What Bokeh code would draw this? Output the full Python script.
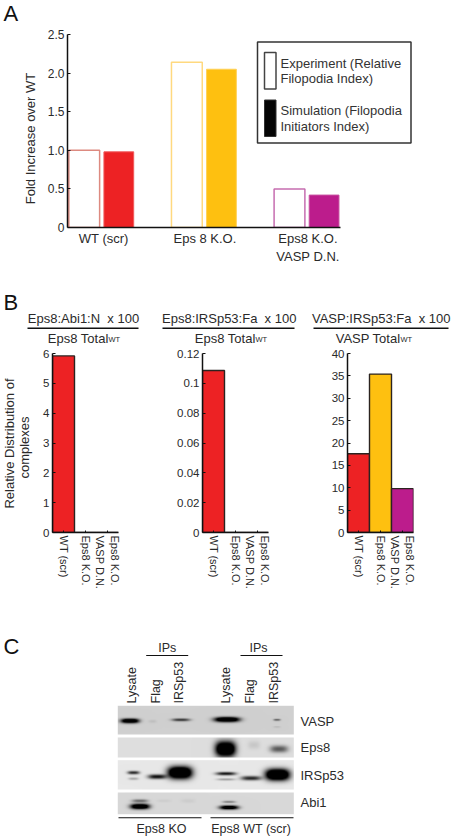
import math
import numpy as np
from bokeh.embed import file_html
from bokeh.resources import INLINE
from bokeh.plotting import figure
from bokeh.layouts import column, row
from bokeh.models import Label, BoxAnnotation, FixedTicker, Range1d

FONT = "Liberation Sans"
INK = "#2a2a2a"

# Panel A
groups = ["WT (scr)", "Eps 8 K.O.", "Eps8 K.O.\nVASP D.N."]
experiment = [1.0, 2.14, 0.5]
simulation = [0.98, 2.05, 0.42]
bar_colors = ["#ED2224", "#FEC010", "#BC1C8C"]
exp_edges = ["#DD8A80", "#FFD97F", "#C66DB0"]
sim_edges = ["#F0595A", "#FFD055", "#C850A0"]
a_ticks = [0, 0.5, 1.0, 1.5, 2.0, 2.5]
a_tick_labels = {0: "0", 0.5: "0.5", 1: "1.0", 1.5: "1.5", 2: "2.0", 2.5: "2.5"}

# Panel B
b_labels = ["WT (scr)", "Eps8 K.O.", "Eps8 K.O.\nVASP D.N."]
abi1_values = [5.92, 0, 0]
irsp53_values = [0.1086, 0, 0]
vasp_values = [17.6, 35.4, 9.8]
abi1_ticks = [0, 1, 2, 3, 4, 5, 6]
irsp53_ticks = [0, 0.02, 0.04, 0.06, 0.08, 0.1, 0.12]
irsp53_tick_labels = {0: "0", 0.02: "0.02", 0.04: "0.04", 0.06: "0.06", 0.08: "0.08", 0.1: "0.1", 0.12: "0.12"}
vasp_ticks = [0, 5, 10, 15, 20, 25, 30, 35, 40]

# Panel C: blot strips and their bands (centre x, centre y, half width, half height, strength)
lane_names = ["Lysate", "Flag", "IRSp53", "Lysate", "Flag", "IRSp53"]
strip_names = ["VASP", "Eps8", "IRSp53", "Abi1"]
strip_bg = [208, 222, 232, 216]
vasp_bands = [(129, 720, 9, 2.2, 1.5), (151.5, 720.5, 4, 1.5, .08), (180, 719, 9, 1.4, .75),
              (226, 718.7, 12.5, 2.4, 1.6), (276, 719, 3.5, 1.0, .55), (276, 726, 3.5, .7, .12)]
eps8_bands = [(224.5, 748, 10, 7.5, 1.7), (253, 744, 6, 4, .1), (278, 748, 9, 3.5, .6)]
irsp53_bands = [(132.5, 772, 6, 1.6, .85), (132.5, 778, 5, 1.2, .3), (156, 776, 9, 2.2, .95),
                (179, 772, 12, 6, 1.8), (225, 773, 10, 1.6, .95), (225, 778.7, 9, 1.0, .35),
                (250, 777.5, 10, 2.1, .85), (276.5, 774, 12, 5.6, 1.8)]
abi1_bands = [(139, 805.5, 9.5, 2.6, 1.5), (139, 800, 8, 1.5, .5), (228, 806.5, 9.5, 2, 1.3),
              (228, 801, 6.5, 1.1, .4), (163, 800, 7, 1.4, .05), (187, 800, 7, 2, .05)]
strip_boxes = [(117.3, 293.3, 705.3, 734), (117.3, 293.3, 737, 757), (117.3, 293.3, 759.7, 789), (117.3, 293.3, 792, 813.7)]
all_bands = [vasp_bands, eps8_bands, irsp53_bands, abi1_bands]

# Page layer: every free text, rule and the blot strips, in page pixels
page = figure(width=452, height=838, output_backend="svg", toolbar_location=None,
              x_range=Range1d(0, 452), y_range=Range1d(838, 0),
              min_border_left=0, min_border_right=0, min_border_top=0, min_border_bottom=0,
              styles={"position": "absolute", "left": "0px", "top": "0px"})
page.axis.visible = False
page.grid.visible = False
page.outline_line_color = None
page.background_fill_color = None
page.border_fill_color = None


def put(x, y, text, size=12.5, align="left", base="middle", angle=0, color=INK):
    page.add_layout(Label(x=x, y=y, x_units="canvas", y_units="canvas", text=text,
                          text_font=FONT, text_font_size=f"{size}px", text_color=color,
                          text_align=align, text_baseline=base, angle=angle))


def rule(x0, x1, y0, y1, color=INK, fill=None, lw=0):
    page.add_layout(BoxAnnotation(left=x0, right=x1, top=y0, bottom=y1,
                                  left_units="canvas", right_units="canvas", top_units="canvas", bottom_units="canvas",
                                  fill_color=fill or color, fill_alpha=1, line_color=color, line_width=lw,
                                  line_alpha=1 if lw else 0, level="underlay", editable=False))


def style_axes(p, size="11.5px"):
    for ax in (p.xaxis[0], p.yaxis[0]):
        ax.axis_line_color = "#111111"
        ax.axis_line_width = 1.5
        ax.major_tick_line_color = "#111111"
        ax.major_tick_line_width = 1
        ax.major_tick_out = 0
        ax.major_tick_in = 3
        ax.minor_tick_line_color = None
        ax.major_label_text_font = FONT
        ax.major_label_text_font_size = size
        ax.major_label_text_color = INK
        ax.major_label_standoff = 3
    p.xgrid.visible = False
    p.ygrid.visible = False
    p.outline_line_color = None


# ---------- Panel A
pa = figure(width=452, height=290, output_backend="svg", toolbar_location=None,
            x_range=Range1d(-0.163, 2.497), y_range=Range1d(0, 2.5),
            min_border_left=67, min_border_right=112, min_border_top=34, min_border_bottom=63)
style_axes(pa, "12px")
pos = np.arange(3)
pa.vbar(x=pos, top=experiment, width=0.30, bottom=0, fill_color="white", line_color=exp_edges, line_width=1.5)
pa.vbar(x=pos + 0.337, top=simulation, width=0.29, bottom=0, fill_color=bar_colors, line_color=sim_edges, line_width=1)
pa.yaxis[0].ticker = FixedTicker(ticks=a_ticks)
pa.yaxis[0].major_label_overrides = a_tick_labels
pa.xaxis[0].ticker = FixedTicker(ticks=[0.19, 1.176, 2.18])
pa.xaxis[0].major_label_overrides = {0.19: groups[0], 1.176: groups[1], 2.18: groups[2]}
pa.xaxis[0].major_tick_in = 0
pa.xaxis[0].major_label_text_font_size = "13px"

put(3, 12.5, "A", size=22, color="#111111")
put(30, 138, "Fold Increase over WT", size=13, align="center", angle=math.pi / 2)
rule(257, 410.5, 41.5, 142.5, color="#333333", fill="white", lw=1.5)
rule(264, 275.5, 52, 88.5, color="#444444", fill="white", lw=1.5)
rule(264, 275.5, 99.5, 136, color="#333333", fill="#050505", lw=1)
for y, t in [(62.7, "Experiment (Relative"), (78.3, "Filopodia Index)"), (109.7, "Simulation (Filopodia"), (125.7, "Initiators Index)")]:
    put(280, y, t, size=13, color="#333333")


# ---------- Panel B
def small_bars(width, frame_left, values, colors, ticks, overrides=None):
    right = width - frame_left - 66
    p = figure(width=width, height=310, output_backend="svg", toolbar_location=None,
               x_range=Range1d(-0.5, 2.5), y_range=Range1d(0, ticks[-1]),
               min_border_left=frame_left, min_border_right=right, min_border_top=63, min_border_bottom=68)
    style_axes(p)
    p.vbar(x=[0, 1, 2], top=values, width=1.0, bottom=0, fill_color=colors, line_color="#2b2320", line_width=1.4)
    p.yaxis[0].ticker = FixedTicker(ticks=ticks)
    if overrides:
        p.yaxis[0].major_label_overrides = overrides
    p.xaxis[0].ticker = FixedTicker(ticks=[0, 1, 2])
    p.xaxis[0].major_label_overrides = {i: b_labels[i] for i in range(3)}
    p.xaxis[0].major_label_orientation = -math.pi / 2
    p.xaxis[0].major_label_text_font_size = "11px"
    p.xaxis[0].major_tick_in = 2
    return p


b1 = small_bars(155, 52, abi1_values, bar_colors, abi1_ticks)
b2 = small_bars(150, 47, irsp53_values, bar_colors, irsp53_ticks, irsp53_tick_labels)
b3 = small_bars(147, 42, vasp_values, bar_colors, vasp_ticks)

put(3, 301.5, "B", size=22, color="#111111")
put(9, 443, "Relative Distribution of", size=13, align="center", angle=math.pi / 2)
put(24, 447, "complexes", size=13, align="center", angle=math.pi / 2)


def header(cx, top, x0, x1, bottom, x_end):
    put(cx, 317.7, top, size=13, align="center")
    rule(x0, x1, 327, 328.5, color="#111111")
    put(x_end, 337.5, bottom, size=13, align="right")
    put(x_end, 339, "WT", size=7.5)


header(83, "Eps8:Abi1:N\u00a0\u00a0x 100", 27, 138, "Eps8 Total", 108)
header(228.7, "Eps8:IRSp53:Fa\u00a0\u00a0x 100", 162, 294, "Eps8 Total", 255)
header(380.7, "VASP:IRSp53:Fa\u00a0\u00a0x 100", 313, 448, "VASP Total", 400)

# ---------- Panel C
for (x0, x1, y0, y1), bg, bands in zip(strip_boxes, strip_bg, all_bands):
    xs = np.arange(x0, x1, 0.5)
    ys = np.arange(y0, y1, 0.5)
    X, Y = np.meshgrid(xs, ys)
    dens = np.zeros_like(X)
    for cx, cy, w, h, s in bands:
        dens += s * np.exp(-np.abs((X - cx) / w) ** 3 - np.abs((Y - cy) / h) ** 2.2)
    gray = bg * (1 - np.clip(dens, 0, 1))
    g = gray.astype(np.uint32)
    rgba = (255 << 24) | (g << 16) | (g << 8) | g
    page.image_rgba(image=[rgba.astype(np.uint32)], x=x0, y=y0, dw=x1 - x0, dh=y1 - y0)

put(3, 646, "C", size=22, color="#111111")
put(166.7, 647.7, "IPs", align="center")
put(258, 647.7, "IPs", align="center")
rule(145.7, 187.7, 654.5, 655.5, color="#111111")
rule(240, 282, 654.5, 655.5, color="#111111")
for x, t in zip([131, 155, 178.3, 225.7, 249.3, 273], lane_names):
    put(x, 703, t, angle=math.pi / 2)
for y, t in zip([721, 746.7, 774.7, 802], strip_names):
    put(300, y, t, size=13)
rule(118, 201, 816.8, 817.8, color="#111111")
rule(210, 293, 816.8, 817.8, color="#111111")
put(161, 828, "Eps8 KO", align="center")
put(250.7, 828, "Eps8 WT (scr)", align="center")

layout = column(pa, row(b1, b2, b3, spacing=0), spacing=0)
open("out.html", "w").write(file_html([layout, page], INLINE))
